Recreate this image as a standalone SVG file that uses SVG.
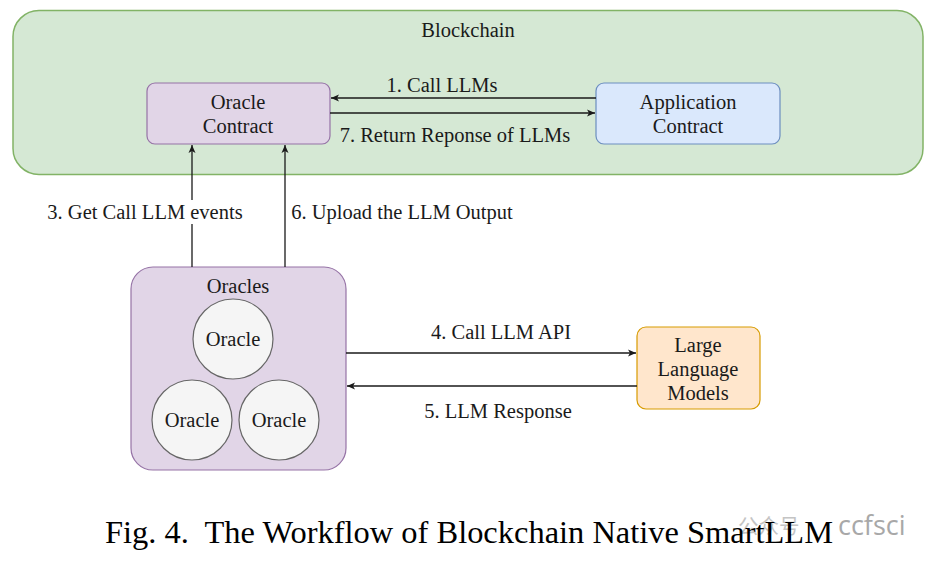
<svg xmlns="http://www.w3.org/2000/svg" width="937" height="565" viewBox="0 0 937 565">
<style>
text{font-family:"Liberation Serif","Times New Roman",serif;fill:#1a1a1a;font-size:20.5px;text-anchor:middle}
.cap{font-size:32.5px;fill:#000;text-anchor:start;white-space:pre}
.wm{font-family:"Noto Sans CJK SC","Noto Sans",sans-serif;fill:#c4c4c4;text-anchor:start}
.wm2{font-family:"Open Sans","Noto Sans",sans-serif;fill:#a8a8a8;text-anchor:start;font-size:27px}
.line{fill:none;stroke:#1a1a1a;stroke-width:1.3}
</style>
<defs>
<marker id="ah" markerWidth="10" markerHeight="10" refX="9" refY="5" orient="auto" markerUnits="userSpaceOnUse">
<path d="M1,1.5 L9,5 L1,8.5 L3,5 Z" fill="#1a1a1a"/>
</marker>
</defs>
<rect width="937" height="565" fill="#fff"/>
<g id="blockchain">
<rect x="13" y="10.5" width="910" height="164" rx="26" fill="#d5e8d4" stroke="#82b366" stroke-width="1.5"/>
<text x="468" y="37">Blockchain</text>
</g>
<g id="oracle-contract">
<rect x="147" y="83" width="183" height="61" rx="8" fill="#e1d5e7" stroke="#9673a6" stroke-width="1.2"/>
<text x="238" y="109">Oracle</text>
<text x="238" y="133">Contract</text>
</g>
<g id="application-contract">
<rect x="596" y="83" width="184" height="61" rx="8" fill="#dae8fc" stroke="#6c8ebf" stroke-width="1.2"/>
<text x="688" y="109">Application</text>
<text x="688" y="133">Contract</text>
</g>
<g id="oracles">
<rect x="131" y="267" width="215" height="203" rx="22" fill="#e1d5e7" stroke="#9673a6" stroke-width="1.2"/>
<text x="238" y="293">Oracles</text>
<g id="oracle-1">
<circle cx="233" cy="339" r="40" fill="#f5f5f5" stroke="#666" stroke-width="1.2"/>
<text x="233" y="346">Oracle</text>
</g>
<g id="oracle-2">
<circle cx="192" cy="420" r="40" fill="#f5f5f5" stroke="#666" stroke-width="1.2"/>
<text x="192" y="427">Oracle</text>
</g>
<g id="oracle-3">
<circle cx="279" cy="420" r="40" fill="#f5f5f5" stroke="#666" stroke-width="1.2"/>
<text x="279" y="427">Oracle</text>
</g>
</g>
<g id="llm">
<rect x="637" y="327" width="123" height="82" rx="9" fill="#ffe6cc" stroke="#d79b00" stroke-width="1.2"/>
<text x="698" y="352">Large</text>
<text x="698" y="376">Language</text>
<text x="698" y="400">Models</text>
</g>
<g id="connectors">
<path class="line" d="M596,98 H331" marker-end="url(#ah)"/>
<text x="442" y="92">1. Call LLMs</text>
<path class="line" d="M330,113 H595" marker-end="url(#ah)"/>
<text x="455" y="142">7. Return Reponse of LLMs</text>
<path class="line" d="M192,267 V145" marker-end="url(#ah)"/>
<rect x="44" y="200" width="202" height="24" fill="#fff"/>
<text x="145" y="219">3. Get Call LLM events</text>
<path class="line" d="M285,267 V145" marker-end="url(#ah)"/>
<text x="402" y="219">6. Upload the LLM Output</text>
<path class="line" d="M346,353 H636" marker-end="url(#ah)"/>
<text x="501" y="339">4. Call LLM API</text>
<path class="line" d="M637,386 H347" marker-end="url(#ah)"/>
<text x="498" y="418">5. LLM Response</text>
</g>
<text class="wm" x="738" y="534" font-size="23">公众号</text>
<text class="wm2" x="838" y="535">ccfsci</text>
<text class="cap" x="105" y="543" textLength="728" lengthAdjust="spacingAndGlyphs">Fig. 4.  The Workflow of Blockchain Native SmartLLM</text>
</svg>
